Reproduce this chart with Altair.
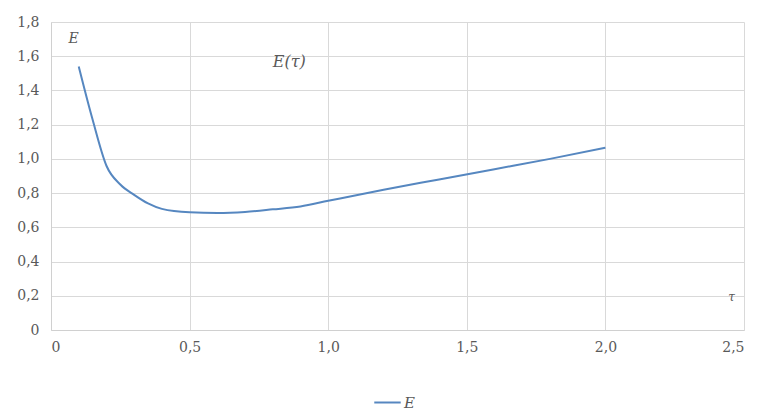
import altair as alt
import pandas as pd

tau = [0.1, 0.15, 0.2, 0.25, 0.3, 0.35, 0.4, 0.5, 0.6, 0.7, 0.8, 0.9, 1.0, 1.2, 1.4, 1.6, 1.8, 2.0]
E = [1.54, 1.23, 0.96, 0.85, 0.79, 0.74, 0.708, 0.688, 0.684, 0.69, 0.705, 0.722, 0.755, 0.82, 0.88, 0.94, 1.0, 1.065]
series = ["E"] * len(tau)

df = pd.DataFrame({"tau": tau, "E": E, "series": series})

label_expr = "datum.value == 0 ? '0' : replace(format(datum.value, '.1f'), '.', ',')"
FONT = "DejaVu Serif"
GRAY = "#595959"

chart = alt.Chart(df).mark_line(interpolate="monotone", strokeWidth=2).encode(
    x=alt.X("tau:Q",
            scale=alt.Scale(domain=[0, 2.5], nice=False, zero=True),
            axis=alt.Axis(values=[0, 0.5, 1.0, 1.5, 2.0, 2.5], labelExpr=label_expr,
                          title="τ", titleX=680, titleY=-34, titleFontStyle="italic",
                          titleFontWeight="normal", titleFontSize=12, titleAlign="center",
                          titleBaseline="middle", labelPadding=10)),
    y=alt.Y("E:Q",
            scale=alt.Scale(domain=[0, 1.8], nice=False),
            axis=alt.Axis(values=[0, 0.2, 0.4, 0.6, 0.8, 1.0, 1.2, 1.4, 1.6, 1.8], labelExpr=label_expr,
                          title="E", titleAngle=0, titleX=22, titleY=16, titleFontStyle="italic",
                          titleFontWeight="normal", titleFontSize=14, titleAlign="center",
                          titleBaseline="middle", labelPadding=12)),
    color=alt.Color("series:N", scale=alt.Scale(range=["#5687c0"]),
                    legend=alt.Legend(title=None, orient="none", legendX=322, legendY=366,
                                      symbolType="stroke", symbolStrokeWidth=2, symbolSize=700,
                                      labelFont=FONT, labelFontStyle="italic", labelFontSize=15,
                                      labelColor=GRAY, labelOffset=2)),
).properties(
    width=693, height=308,
    autosize=alt.AutoSizeParams(type="none"),
    padding={"left": 43, "top": 14, "right": 19, "bottom": 82},
    title=alt.Title("E(τ)", anchor="start", dx=256, dy=68, offset=0, baseline="alphabetic",
                    font=FONT, fontSize=16, fontStyle="italic", fontWeight="normal", color=GRAY),
).configure_view(strokeWidth=0).configure_axis(
    labelFont=FONT, labelFontSize=14, labelColor=GRAY, titleFont=FONT, titleColor=GRAY,
    gridColor="#d9d9d9", gridWidth=1, domainColor="#d0d0d0", domainWidth=1, ticks=False,
)

chart.save("out.html", embed_options={"renderer": "svg", "actions": False})
